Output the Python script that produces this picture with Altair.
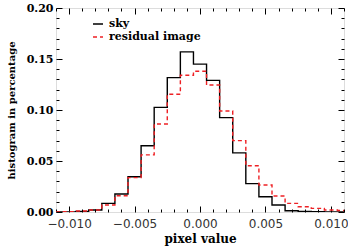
import altair as alt
import pandas as pd

# Histogram bins (bin centres, width 0.001) and fraction of pixels per bin
bin_centers = [-0.011, -0.010, -0.009, -0.008, -0.007, -0.006, -0.005, -0.004,
               -0.003, -0.002, -0.001, 0.000, 0.001, 0.002, 0.003, 0.004,
               0.005, 0.006, 0.007, 0.008, 0.009, 0.010, 0.011]
sky = [0.0, 0.0, 0.0005, 0.002, 0.0085, 0.0176, 0.0346, 0.065,
       0.1026, 0.1317, 0.157, 0.145, 0.129, 0.0925, 0.058, 0.0278,
       0.015, 0.0069, 0.0012, 0.0005, 0.0002, 0.0, 0.0]
residual = [0.0, 0.0003, 0.001, 0.002, 0.0069, 0.016, 0.0337, 0.056,
            0.0863, 0.1154, 0.134, 0.138, 0.1245, 0.099, 0.07, 0.0454,
            0.0265, 0.0157, 0.0085, 0.0052, 0.0036, 0.002, 0.0015]
series_names = ["sky", "residual image"]

x_labels = [-0.010, -0.005, 0.000, 0.005, 0.010]
x_ticks = [round(-0.011 + 0.001 * i, 3) for i in range(23)]
y_labels = [0.00, 0.05, 0.10, 0.15, 0.20]
y_ticks = [round(0.01 * i, 2) for i in range(21)]

W, H = 288, 204

rows = []
for c, s, r in zip(bin_centers, sky, residual):
    rows.append({"value": c, "frac": s, "series": series_names[0]})
    rows.append({"value": c, "frac": r, "series": series_names[1]})
df = pd.DataFrame(rows)

xs = alt.Scale(domain=[-0.011, 0.011], nice=False, zero=False)
ys = alt.Scale(domain=[0.0, 0.2], nice=False, zero=False)

serif = "DejaVu Serif"
x_major = "abs(datum.value*200 - round(datum.value*200)) < 0.01"
y_major = "abs(datum.value*20 - round(datum.value*20)) < 0.01"

legend = alt.Legend(
    title=None, orient="none", legendX=36, legendY=10, padding=0,
    symbolType="stroke", symbolSize=100, symbolStrokeWidth=1.5,
    labelFont=serif, labelFontWeight="bold", labelFontSize=11,
    labelColor="black", labelOffset=5, rowPadding=2,
)

lines = alt.Chart(df).mark_line(interpolate="step", strokeWidth=1.4, clip=True).encode(
    x=alt.X("value:Q", scale=xs, axis=alt.Axis(
        values=x_labels, format=".3f", title="pixel value", ticks=False,
        domain=False, grid=False, labelFont="DejaVu Sans", labelFontSize=12,
        labelColor="#333", labelPadding=6, labelFlush=False, labelOverlap=False,
        titleFont=serif, titleFontWeight="bold", titleFontSize=12,
        titleColor="black", titlePadding=4)),
    y=alt.Y("frac:Q", scale=ys, axis=alt.Axis(
        values=y_labels, format=".2f", title="histogram in percentage",
        ticks=False, domain=False, grid=False, labelFont=serif,
        labelFontWeight="bold", labelFontSize=11, labelColor="black",
        labelPadding=3, labelFlush=False, labelOverlap=False,
        titleFont=serif, titleFontWeight="bold", titleFontSize=10,
        titleColor="black", titlePadding=10)),
    color=alt.Color("series:N", scale=alt.Scale(domain=series_names, range=["black", "#ee2024"]),
                    legend=legend),
    strokeDash=alt.StrokeDash("series:N", scale=alt.Scale(domain=series_names, range=[[1, 0], [4, 3]]),
                              legend=legend),
)


def tick_axis(orient_x, orient_y):
    # inward-pointing ticks drawn on the opposite edge of the frame
    ax = alt.Axis(orient=orient_x, offset=-H, values=x_ticks, labels=False,
                  domain=False, grid=False, title=None, tickColor="black",
                  tickWidth=1, tickSize={"condition": {"test": x_major, "value": 6}, "value": 3})
    ay = alt.Axis(orient=orient_y, offset=-W, values=y_ticks, labels=False,
                  domain=False, grid=False, title=None, tickColor="black",
                  tickWidth=1, tickSize={"condition": {"test": y_major, "value": 6}, "value": 3})
    return alt.Chart(df).mark_point(opacity=0).encode(
        x=alt.X("value:Q", scale=xs, axis=ax),
        y=alt.Y("frac:Q", scale=ys, axis=ay),
    )


chart = alt.layer(
    lines, tick_axis("top", "right"), tick_axis("bottom", "left")
).resolve_scale(x="independent", y="independent").properties(
    width=W, height=H,
    padding={"left": 56, "top": 8, "right": 4, "bottom": 38},
    autosize="none",
).configure_view(stroke="black", strokeWidth=1.2).configure(background="white")

chart.save("out.html", embed_options={"renderer": "svg", "actions": False})
